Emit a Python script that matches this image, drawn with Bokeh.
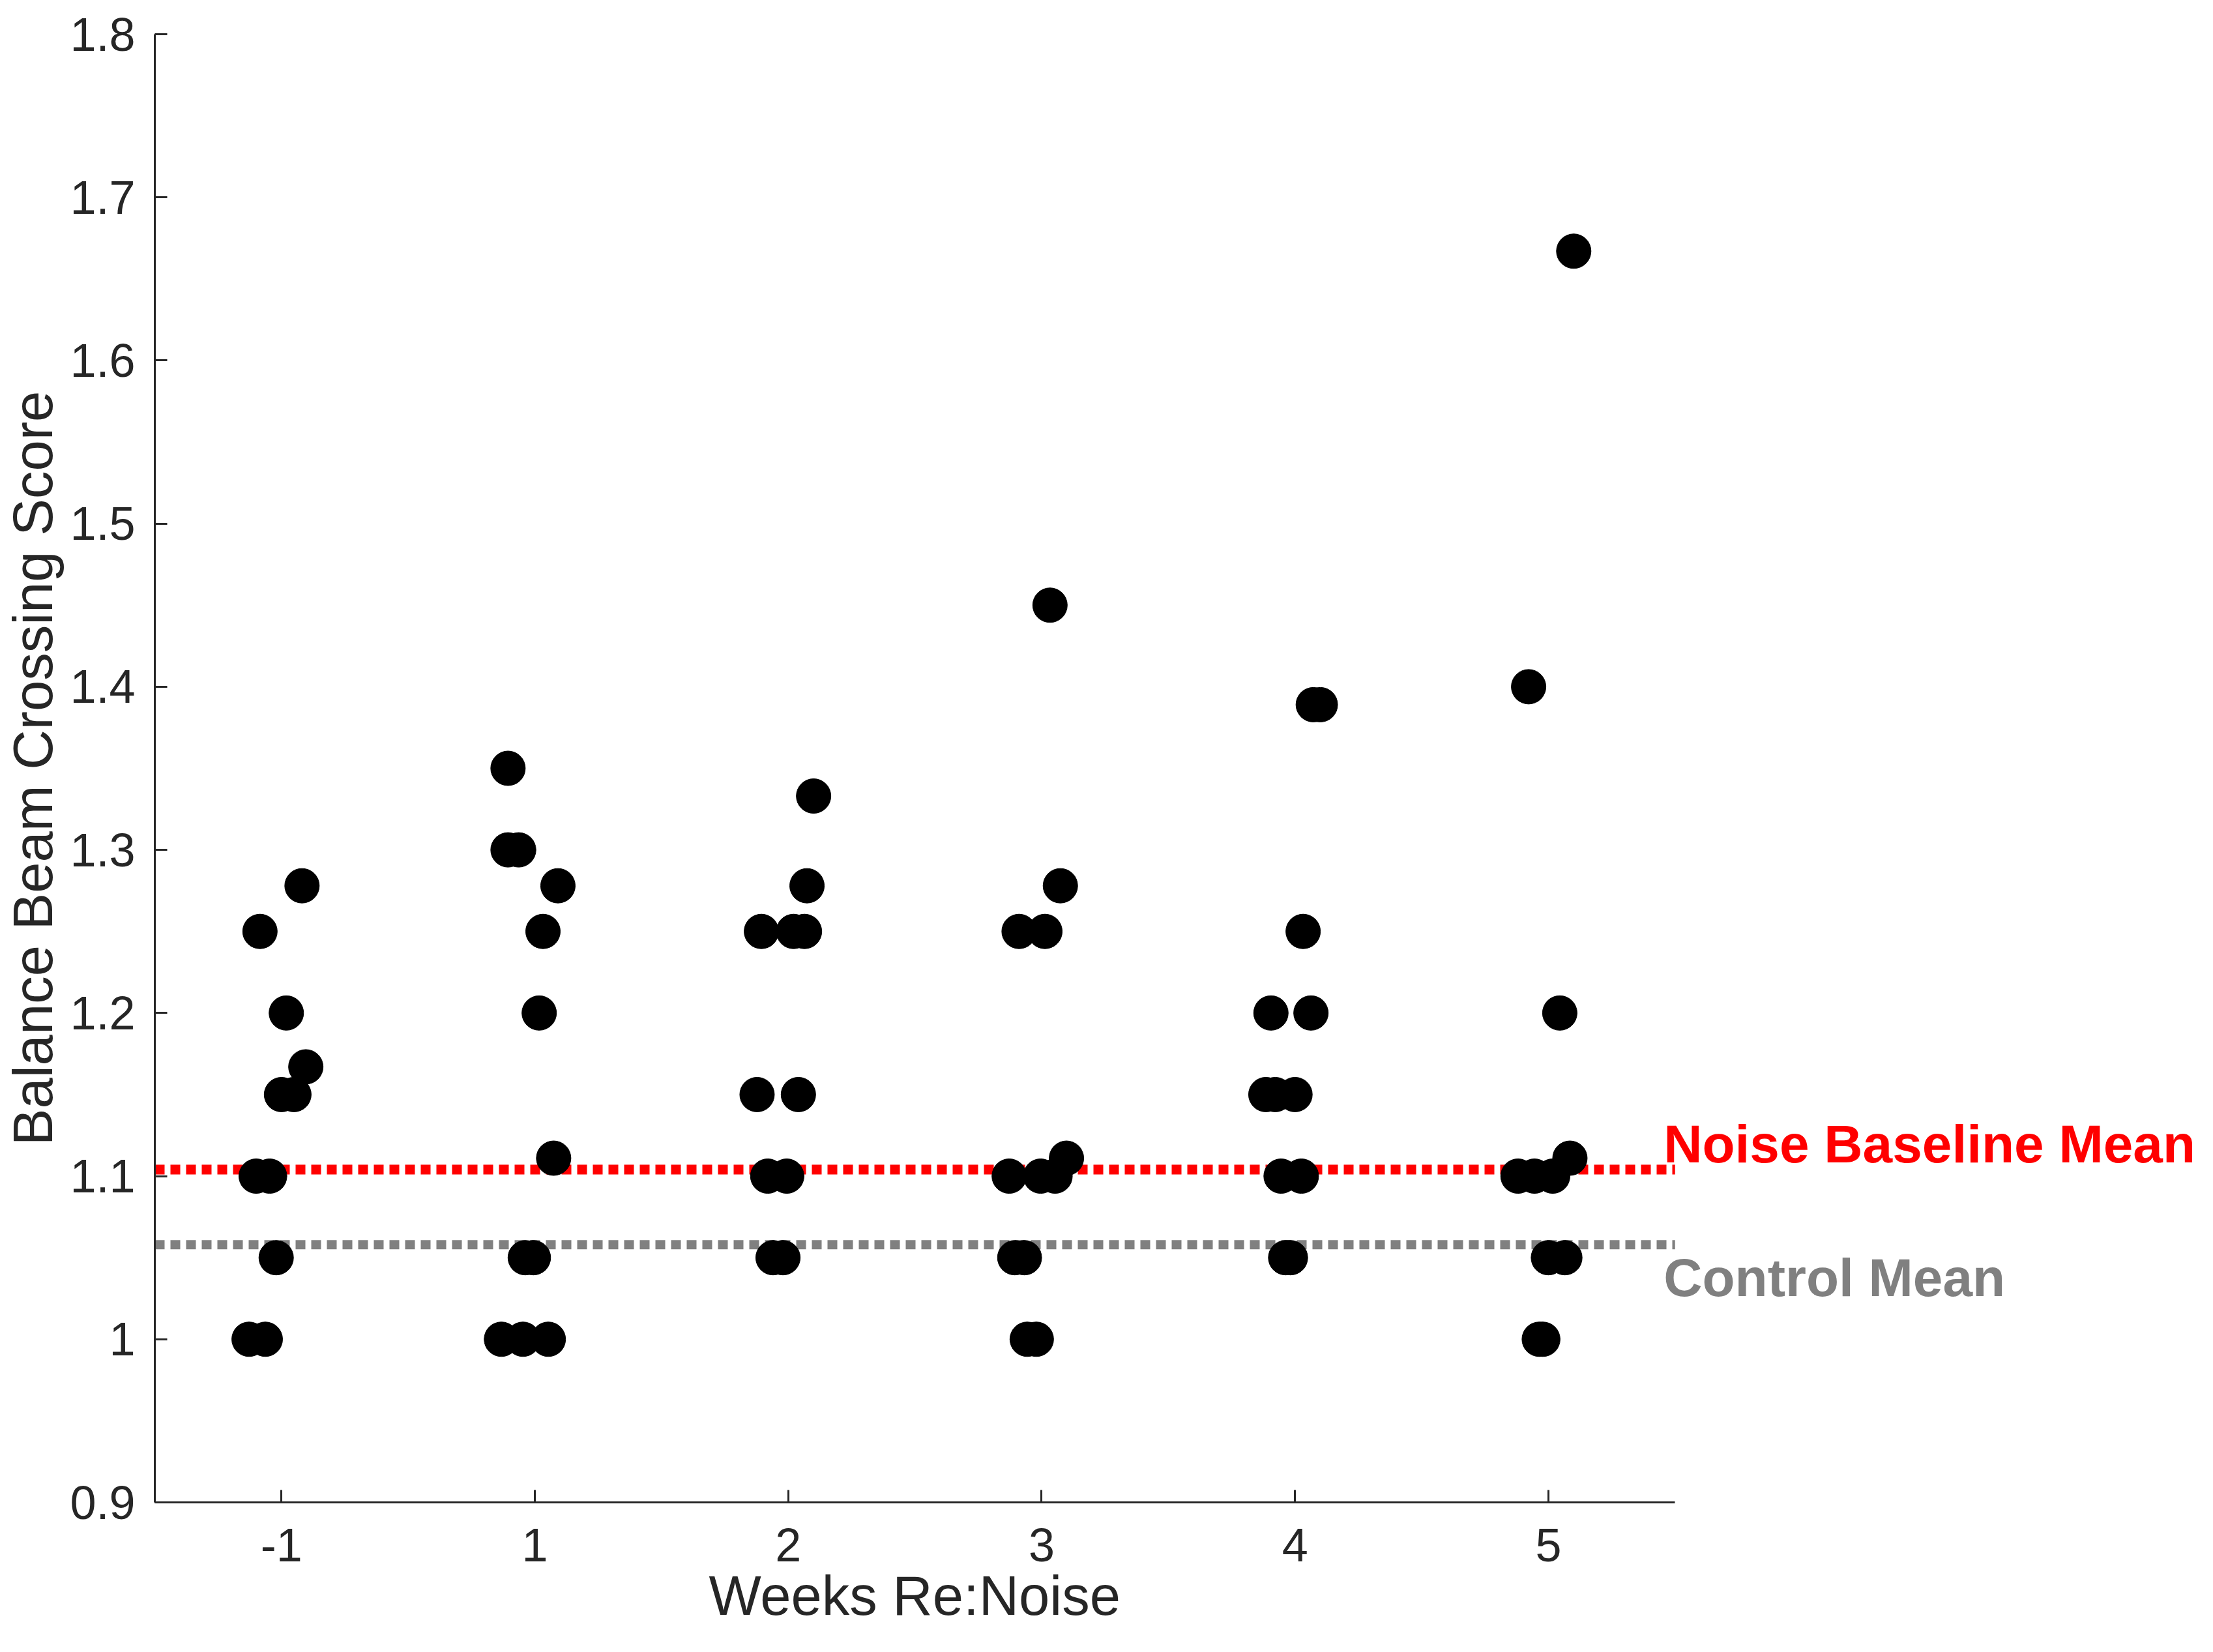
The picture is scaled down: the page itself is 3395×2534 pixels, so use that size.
import numpy as np
from bokeh.plotting import figure
from bokeh.models import Range1d, FixedTicker, CustomJSTickFormatter, Label, ColumnDataSource, Title
from bokeh.embed import file_html
from bokeh.resources import INLINE

# ---- data ----
week_labels = ["-1", "1", "2", "3", "4", "5"]

scores_wm1 = [1.25, 1.278, 1.2, 1.167, 1.15, 1.15, 1.1, 1.1, 1.05, 1.0, 1.0]
jitter_wm1 = [-0.085, 0.081, 0.019, 0.096, 0.0, 0.049, -0.1, -0.047, -0.021, -0.128, -0.064]

scores_w1 = [1.35, 1.3, 1.3, 1.278, 1.25, 1.2, 1.111, 1.05, 1.05, 1.0, 1.0, 1.0]
jitter_w1 = [-0.106, -0.106, -0.064, 0.091, 0.032, 0.017, 0.074, -0.038, -0.006, -0.132, -0.047, 0.053]

scores_w2 = [1.333, 1.278, 1.25, 1.25, 1.25, 1.15, 1.15, 1.1, 1.1, 1.05, 1.05]
jitter_w2 = [0.1, 0.074, -0.106, 0.021, 0.064, -0.123, 0.04, -0.081, -0.006, -0.06, -0.021]

scores_w3 = [1.45, 1.278, 1.25, 1.25, 1.111, 1.1, 1.1, 1.1, 1.05, 1.05, 1.0, 1.0]
jitter_w3 = [0.033, 0.074, -0.089, 0.013, 0.098, -0.128, -0.004, 0.053, -0.106, -0.068, -0.057, -0.021]

scores_w4 = [1.389, 1.389, 1.25, 1.2, 1.2, 1.15, 1.15, 1.15, 1.1, 1.1, 1.05, 1.05]
jitter_w4 = [0.072, 0.1, 0.032, -0.095, 0.063, -0.115, -0.078, 0.0, -0.055, 0.025, -0.037, -0.018]

scores_w5 = [1.667, 1.4, 1.2, 1.111, 1.1, 1.1, 1.1, 1.05, 1.05, 1.0, 1.0]
jitter_w5 = [0.1, -0.078, 0.045, 0.085, -0.12, -0.055, 0.017, 0.0, 0.065, -0.036, -0.022]

noise_baseline_mean = 1.104
control_mean = 1.058

y_ticks = [0.9, 1.0, 1.1, 1.2, 1.3, 1.4, 1.5, 1.6, 1.7, 1.8]
x_min, x_max = 0.5, 6.5
y_min, y_max = 0.9, 1.8

x_title = "Weeks Re:Noise"
y_title = "Balance Beam Crossing Score"

# ---- build points ----
groups = [(scores_wm1, jitter_wm1), (scores_w1, jitter_w1), (scores_w2, jitter_w2),
          (scores_w3, jitter_w3), (scores_w4, jitter_w4), (scores_w5, jitter_w5)]
xs, ys = [], []
for i, (sc, jt) in enumerate(groups):
    pos = i + 1
    xs.extend(list(pos + np.array(jt)))
    ys.extend(sc)
src = ColumnDataSource(dict(x=xs, y=ys))

FONT = "Liberation Sans"
AX_COLOR = "#262626"

W, H = 3379, 2518
BL, BR, BT, BB = 236, 2, 52, 214
axes_px = 2333  # pixel width of the 0.5..6.5 axis span
frame_w = W - BL - BR
x_end = x_min + frame_w * (x_max - x_min) / axes_px

p = figure(width=W, height=H,
           x_range=Range1d(x_min, x_end), y_range=Range1d(y_min, y_max),
           output_backend="svg", toolbar_location=None,
           min_border_left=BL, min_border_right=BR,
           min_border_top=BT, min_border_bottom=BB)

p.outline_line_color = None
p.xgrid.visible = False
p.ygrid.visible = False
p.background_fill_color = "white"
p.border_fill_color = "white"

# reference lines (span the axis extent)
p.line([x_min, x_max], [noise_baseline_mean, noise_baseline_mean],
       line_color="#ff0000", line_width=15, line_dash="15 9", line_cap="butt")
p.line([x_min, x_max], [control_mean, control_mean],
       line_color="#808080", line_width=14, line_dash="15 9", line_cap="butt")

p.scatter("x", "y", source=src, size=53, marker="circle",
          fill_color="black", line_color="black")

# axes
xa = p.xaxis[0]
xa.ticker = FixedTicker(ticks=list(range(1, len(week_labels) + 1)))
xa.major_label_overrides = {i + 1: lab for i, lab in enumerate(week_labels)}
xa.bounds = (x_min, x_max)
ya = p.yaxis[0]
ya.ticker = FixedTicker(ticks=y_ticks)
ya.formatter = CustomJSTickFormatter(code="return String(Number(tick.toFixed(1)));")

for ax in (xa, ya):
    ax.axis_line_color = AX_COLOR
    ax.axis_line_width = 3
    ax.major_tick_line_color = AX_COLOR
    ax.major_tick_line_width = 3
    ax.major_tick_in = 19
    ax.major_tick_out = 0
    ax.minor_tick_line_color = None
    ax.major_label_text_font = FONT
    ax.major_label_text_font_size = "72px"
    ax.major_label_text_color = AX_COLOR
    ax.axis_label_text_font = FONT
    ax.axis_label_text_font_size = "85px"
    ax.axis_label_text_font_style = "normal"
    ax.axis_label_text_color = AX_COLOR

ya.axis_label = y_title
xa.major_label_standoff = 40
ya.major_label_standoff = 30
ya.axis_label_standoff = 6

# x-axis title, centred under the 0.5..6.5 axis span
label_w = 633  # approx. text width at 85px
p.add_layout(Title(text=x_title, align="left", offset=axes_px / 2 - label_w / 2,
                   text_font=FONT, text_font_size="85px", text_font_style="normal",
                   text_color=AX_COLOR, standoff=0), "below")

# annotations
p.add_layout(Label(x=6.455, y=1.12, text="Noise Baseline Mean",
                   text_font=FONT, text_font_size="82px", text_font_style="bold",
                   text_color="#ff0000", text_baseline="alphabetic", text_align="left"))
p.add_layout(Label(x=6.455, y=1.038, text="Control Mean",
                   text_font=FONT, text_font_size="82px", text_font_style="bold",
                   text_color="#808080", text_baseline="alphabetic", text_align="left"))

open("out.html", "w").write(file_html(p, INLINE))
